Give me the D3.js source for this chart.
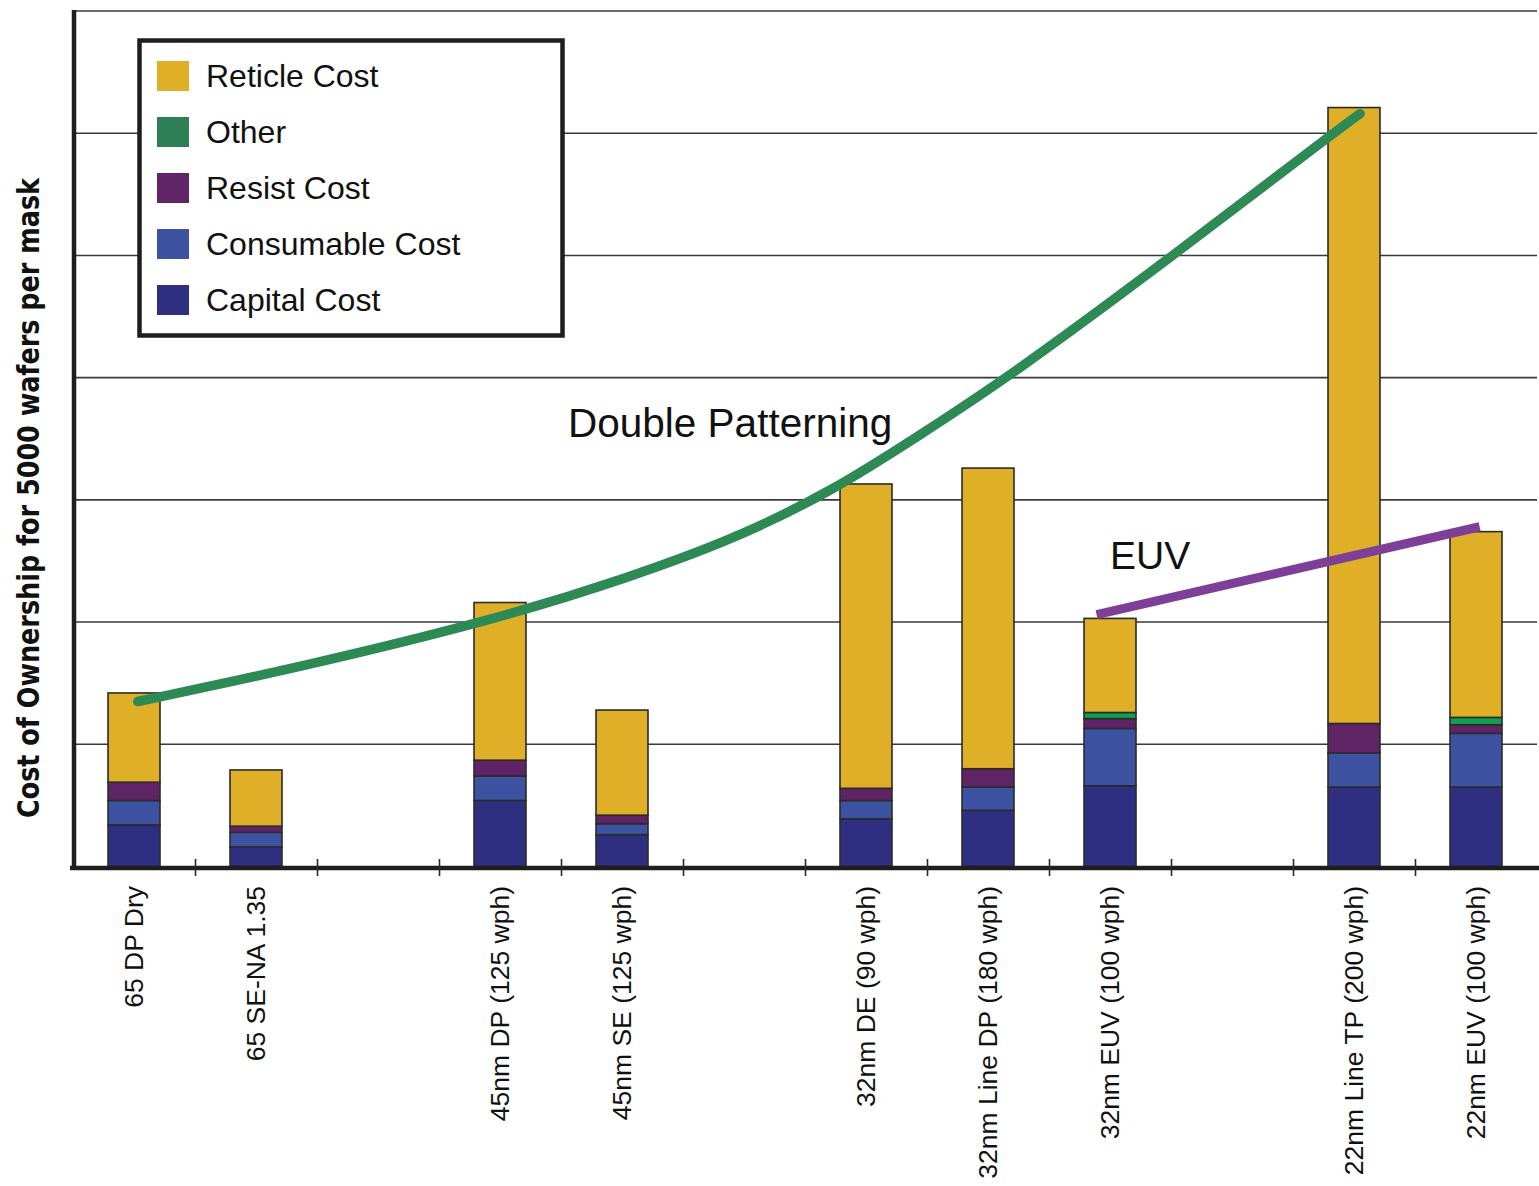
<!DOCTYPE html>
<html>
<head>
<meta charset="utf-8">
<script src="https://cdn.jsdelivr.net/npm/d3@7"></script>
<style>
  html, body { margin: 0; padding: 0; background: #fff; }
  svg { display: block; }
</style>
</head>
<body>
<svg id="chart" width="1539" height="1186"></svg>
<script>
// Lithography cost-of-ownership per mask, stacked by cost component.
// Empty strings are spacer slots between node groups.
const categories = [
  "65 DP Dry", "65 SE-NA 1.35", "",
  "45nm DP (125 wph)", "45nm SE (125 wph)", "",
  "32nm DE (90 wph)", "32nm Line DP (180 wph)", "32nm EUV (100 wph)", "",
  "22nm Line TP (200 wph)", "22nm EUV (100 wph)"
];

const capitalCost    = [0.34, 0.16, 0, 0.54, 0.26, 0, 0.39, 0.46, 0.66, 0, 0.65, 0.65];
const consumableCost = [0.20, 0.12, 0, 0.20, 0.09, 0, 0.15, 0.19, 0.47, 0, 0.28, 0.44];
const resistCost     = [0.15, 0.05, 0, 0.13, 0.07, 0, 0.10, 0.15, 0.08, 0, 0.24, 0.07];
const otherCost      = [0.00, 0.00, 0, 0.00, 0.00, 0, 0.00, 0.00, 0.05, 0, 0.00, 0.06];
const reticleCost    = [0.73, 0.46, 0, 1.29, 0.86, 0, 2.49, 2.46, 0.77, 0, 5.04, 1.52];

const gridValues = [1, 2, 3, 4, 5, 6, 7];

// Hand-drawn trend lines (x in slot units, y in cost units)
const doublePatterningX = [0.53, 1.86, 3.50, 4.57, 5.40, 6.24, 6.94, 7.68, 9.02, 10.33, 10.55];
const doublePatterningY = [1.35, 1.63, 2.03, 2.37, 2.67, 3.08, 3.53, 4.01, 5.00, 6.00, 6.16];
const euvX = [8.39, 11.53];
const euvY = [2.06, 2.78];

const seriesKeys   = ["capital", "consumable", "resist", "other", "reticle"];
const seriesColors = {
  reticle: "#dfaf27",
  other: "#12a04f",
  resist: "#5e2465",
  consumable: "#3d52a0",
  capital: "#2e2f80"
};
const legendItems = [
  { label: "Reticle Cost", color: "#dfaf27" },
  { label: "Other", color: "#2e7f55" },
  { label: "Resist Cost", color: "#5e2465" },
  { label: "Consumable Cost", color: "#3d52a0" },
  { label: "Capital Cost", color: "#2e2f80" }
];

const rows = categories.map((c, i) => ({
  idx: i, name: c,
  capital: capitalCost[i], consumable: consumableCost[i], resist: resistCost[i],
  other: otherCost[i], reticle: reticleCost[i]
}));

const svg = d3.select("#chart");
const plotLeft = 73, plotRight = 1537, plotBottom = 866.5, plotTop = 11;

const x = d3.scaleBand().domain(d3.range(categories.length))
  .range([plotLeft, plotRight]).paddingInner(0.574).paddingOuter(0.287);
const xSlot = d3.scaleLinear().domain([0, categories.length]).range([plotLeft, plotRight]);
const y = d3.scaleLinear().domain([0, 7]).range([plotBottom, plotTop]);

// Grid
svg.append("g").selectAll("line").data(gridValues).join("line")
  .attr("x1", plotLeft).attr("x2", plotRight)
  .attr("y1", d => y(d)).attr("y2", d => y(d))
  .attr("stroke", "#3a3a3a").attr("stroke-width", 1.6);

// Stacked bars
const stacked = d3.stack().keys(seriesKeys)(rows);
svg.append("g").selectAll("g").data(stacked).join("g")
  .attr("fill", d => seriesColors[d.key])
  .selectAll("rect").data(d => d.filter(s => s[1] - s[0] > 0)).join("rect")
  .attr("x", d => x(d.data.idx))
  .attr("width", x.bandwidth())
  .attr("y", d => y(d[1]))
  .attr("height", d => y(d[0]) - y(d[1]))
  .attr("stroke", "#2b2b2b").attr("stroke-width", 1.6);

// X axis with boundary ticks
const xAxis = d3.axisBottom(xSlot).tickValues(d3.range(1, categories.length))
  .tickSize(8).tickFormat("");
const ax = svg.append("g").attr("transform", `translate(0,${plotBottom + 1.5})`).call(xAxis);
ax.select(".domain").attr("stroke", "#1e1e1e").attr("stroke-width", 4.5)
  .attr("d", `M${plotLeft - 3},0H${plotRight + 2}`);
ax.selectAll(".tick line").attr("y1", -9).attr("y2", 8)
  .attr("stroke", "#2a2a2a").attr("stroke-width", 1.6);

// Y axis line
svg.append("line")
  .attr("x1", plotLeft + 1).attr("x2", plotLeft + 1)
  .attr("y1", plotTop - 1).attr("y2", plotBottom + 3.5)
  .attr("stroke", "#1e1e1e").attr("stroke-width", 4.5);

// Category labels
svg.append("g").selectAll("text").data(rows.filter(r => r.name)).join("text")
  .attr("transform", d => `translate(${x(d.idx) + x.bandwidth() / 2},886) rotate(-90)`)
  .attr("text-anchor", "end")
  .attr("dy", "0.35em")
  .attr("font-family", "'Liberation Sans', Arial, sans-serif")
  .attr("font-size", 26.5)
  .attr("fill", "#111")
  .text(d => d.name);

// Y axis title
svg.append("text")
  .attr("transform", "translate(28,498) rotate(-90)")
  .attr("text-anchor", "middle")
  .attr("dy", "0.36em")
  .attr("font-family", "'Liberation Sans Narrow', 'DejaVu Sans Condensed', 'Liberation Sans', sans-serif")
  .attr("font-weight", "bold")
  .attr("font-size", 31)
  .attr("textLength", 640)
  .attr("lengthAdjust", "spacingAndGlyphs")
  .attr("fill", "#111")
  .text("Cost of Ownership for 5000 wafers per mask");

// Trend lines
svg.append("path")
  .datum(d3.zip(doublePatterningX, doublePatterningY))
  .attr("d", d3.line().x(d => xSlot(d[0])).y(d => y(d[1])).curve(d3.curveBasis))
  .attr("fill", "none").attr("stroke", "#2e8a55")
  .attr("stroke-width", 9.5).attr("stroke-linecap", "round");

svg.append("path")
  .datum(d3.zip(euvX, euvY))
  .attr("d", d3.line().x(d => xSlot(d[0])).y(d => y(d[1])))
  .attr("fill", "none").attr("stroke", "#7e3f98")
  .attr("stroke-width", 9).attr("stroke-linecap", "butt");

svg.append("text")
  .attr("x", 568).attr("y", 437)
  .attr("font-family", "'Liberation Sans', Arial, sans-serif")
  .attr("font-size", 40.5).attr("fill", "#111")
  .text("Double Patterning");

svg.append("text")
  .attr("x", 1110).attr("y", 569)
  .attr("font-family", "'Liberation Sans', Arial, sans-serif")
  .attr("font-size", 39).attr("fill", "#111")
  .text("EUV");

// Legend
const lg = svg.append("g");
lg.append("rect")
  .attr("x", 139.5).attr("y", 40.5).attr("width", 423).attr("height", 295)
  .attr("fill", "#fff").attr("stroke", "#1e1e1e").attr("stroke-width", 4.5);
const li = lg.selectAll("g.item").data(legendItems).join("g")
  .attr("class", "item")
  .attr("transform", (d, i) => `translate(157,${76 + i * 56})`);
li.append("rect").attr("x", 0).attr("y", -15).attr("width", 32).attr("height", 30)
  .attr("fill", d => d.color);
li.append("text").attr("x", 49).attr("dy", "0.35em")
  .attr("font-family", "'Liberation Sans', Arial, sans-serif")
  .attr("font-size", 32).attr("fill", "#111")
  .text(d => d.label);
</script>
</body>
</html>
